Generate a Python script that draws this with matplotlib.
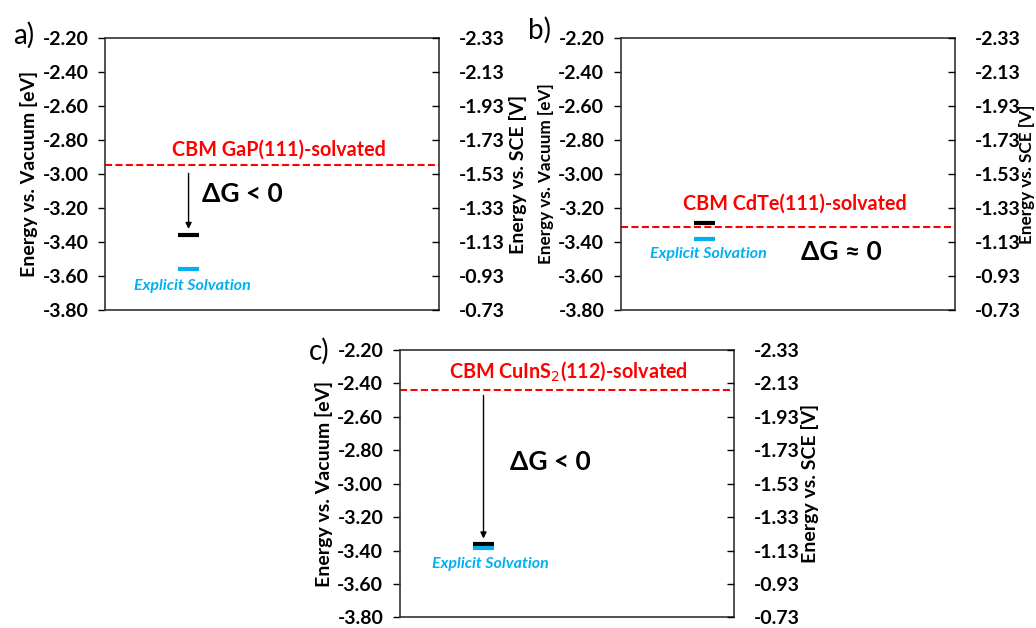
import matplotlib
matplotlib.use("Agg")
import matplotlib.pyplot as plt
import numpy as np

plt.rcParams['font.family'] = ['Lato', 'DejaVu Sans']

# ---- data ----
panel_labels = ["a)", "b)", "c)"]
cbm_labels = ["CBM GaP(111)-solvated", "CBM CdTe(111)-solvated", "CBM CuInS$_2$(112)-solvated"]
cbm_levels = [-2.95, -3.31, -2.44]          # eV vs vacuum (red dashed)
implicit_levels = [-3.36, -3.29, -3.36]     # black bars
explicit_levels = [-3.56, -3.38, -3.385]    # cyan bars
dg_texts = ["ΔG < 0", "ΔG ≈ 0", "ΔG < 0"]
has_arrow = [True, False, True]

vac_ticks = [-3.80, -3.60, -3.40, -3.20, -3.00, -2.80, -2.60, -2.40, -2.20]
sce_offset = 4.53  # V_SCE = -E_vac - 4.53
sce_ticks = [-0.73, -0.93, -1.13, -1.33, -1.53, -1.73, -1.93, -2.13, -2.33]

# ---- layout / styling ----
positions = [
    [0.1014, 0.5064, 0.3224, 0.4331],
    [0.5994, 0.5064, 0.3224, 0.4331],
    [0.3861, 0.0170, 0.3224, 0.4256],
]
bar_x = (0.219, 0.282)
arrow_x = 0.25
cbm_text_pos = [(0.52, -2.915), (0.52, -3.235), (0.505, -2.395)]
dg_pos = [(0.29, -3.12), (0.54, -3.46), (0.33, -2.87)]
expl_pos = [(0.262, -3.66), (0.262, -3.47), (0.27, -3.48)]
arrow_ranges = [(-2.98, -3.34), None, (-2.455, -3.345)]
plabel_pos = [(0.023, 0.943), (0.521, 0.951), (0.308, 0.441)]
ylabel_size = [14, 12.3, 14]
right_labelpad = [3, -1, 1]
tick_size = 14

RED = "#ff0000"
CYAN = "#00b0f0"

fig = plt.figure(figsize=(10.36, 6.28), dpi=100)

for i in range(3):
    ax = fig.add_axes(positions[i])
    ax.set_xlim(0, 1)
    ax.set_ylim(-3.80, -2.20)
    ax.set_xticks([])
    ax.set_yticks(vac_ticks)
    ax.set_yticklabels([f"{t:.2f}" for t in vac_ticks], fontweight='bold', fontsize=tick_size)
    ax.tick_params(axis='y', direction='out', length=5, width=1, pad=7, colors='black')
    for s in ax.spines.values():
        s.set_linewidth(1.2)
        s.set_color('#333333')
    ax.set_ylabel("Energy vs. Vacuum [eV]", fontweight='bold', fontsize=ylabel_size[i], labelpad=3)

    ax2 = ax.twinx()
    ax2.set_ylim(-(-3.80) - sce_offset, -(-2.20) - sce_offset)
    ax2.set_yticks(sce_ticks)
    ax2.set_yticklabels([f"{t:.2f}" for t in sce_ticks], fontweight='bold', fontsize=tick_size)
    ax2.tick_params(axis='y', direction='in', length=5, width=1, pad=14, colors='black')
    ax2.set_ylabel("Energy vs. SCE [V]", fontweight='bold', fontsize=ylabel_size[i],
                   labelpad=right_labelpad[i])
    for s in ax2.spines.values():
        s.set_visible(False)

    # CBM dashed line
    ax.axhline(cbm_levels[i], color=RED, ls=(0, (3.4, 1.6)), lw=1.5)
    ax.text(cbm_text_pos[i][0], cbm_text_pos[i][1], cbm_labels[i], color=RED,
            fontweight='bold', fontsize=14.2, ha='center', va='bottom')

    # levels
    ax.plot(bar_x, [implicit_levels[i]] * 2, color='black', lw=3, solid_capstyle='butt')
    ax.plot(bar_x, [explicit_levels[i]] * 2, color=CYAN, lw=3, solid_capstyle='butt')

    if has_arrow[i]:
        y0, y1 = arrow_ranges[i]
        ax.annotate("", xy=(arrow_x, y1), xytext=(arrow_x, y0),
                    arrowprops=dict(arrowstyle='-|>', color='black', lw=1, mutation_scale=9))

    ax.text(dg_pos[i][0], dg_pos[i][1], dg_texts[i], fontweight='bold', fontsize=19,
            ha='left', va='center', color='black')
    ax.text(expl_pos[i][0], expl_pos[i][1], "Explicit Solvation", color=CYAN,
            fontweight='bold', fontstyle='italic', fontsize=11.5, ha='center', va='center')

    fig.text(plabel_pos[i][0], plabel_pos[i][1], panel_labels[i], fontsize=20,
             ha='center', va='center')

fig.savefig("out.png", dpi=100)
